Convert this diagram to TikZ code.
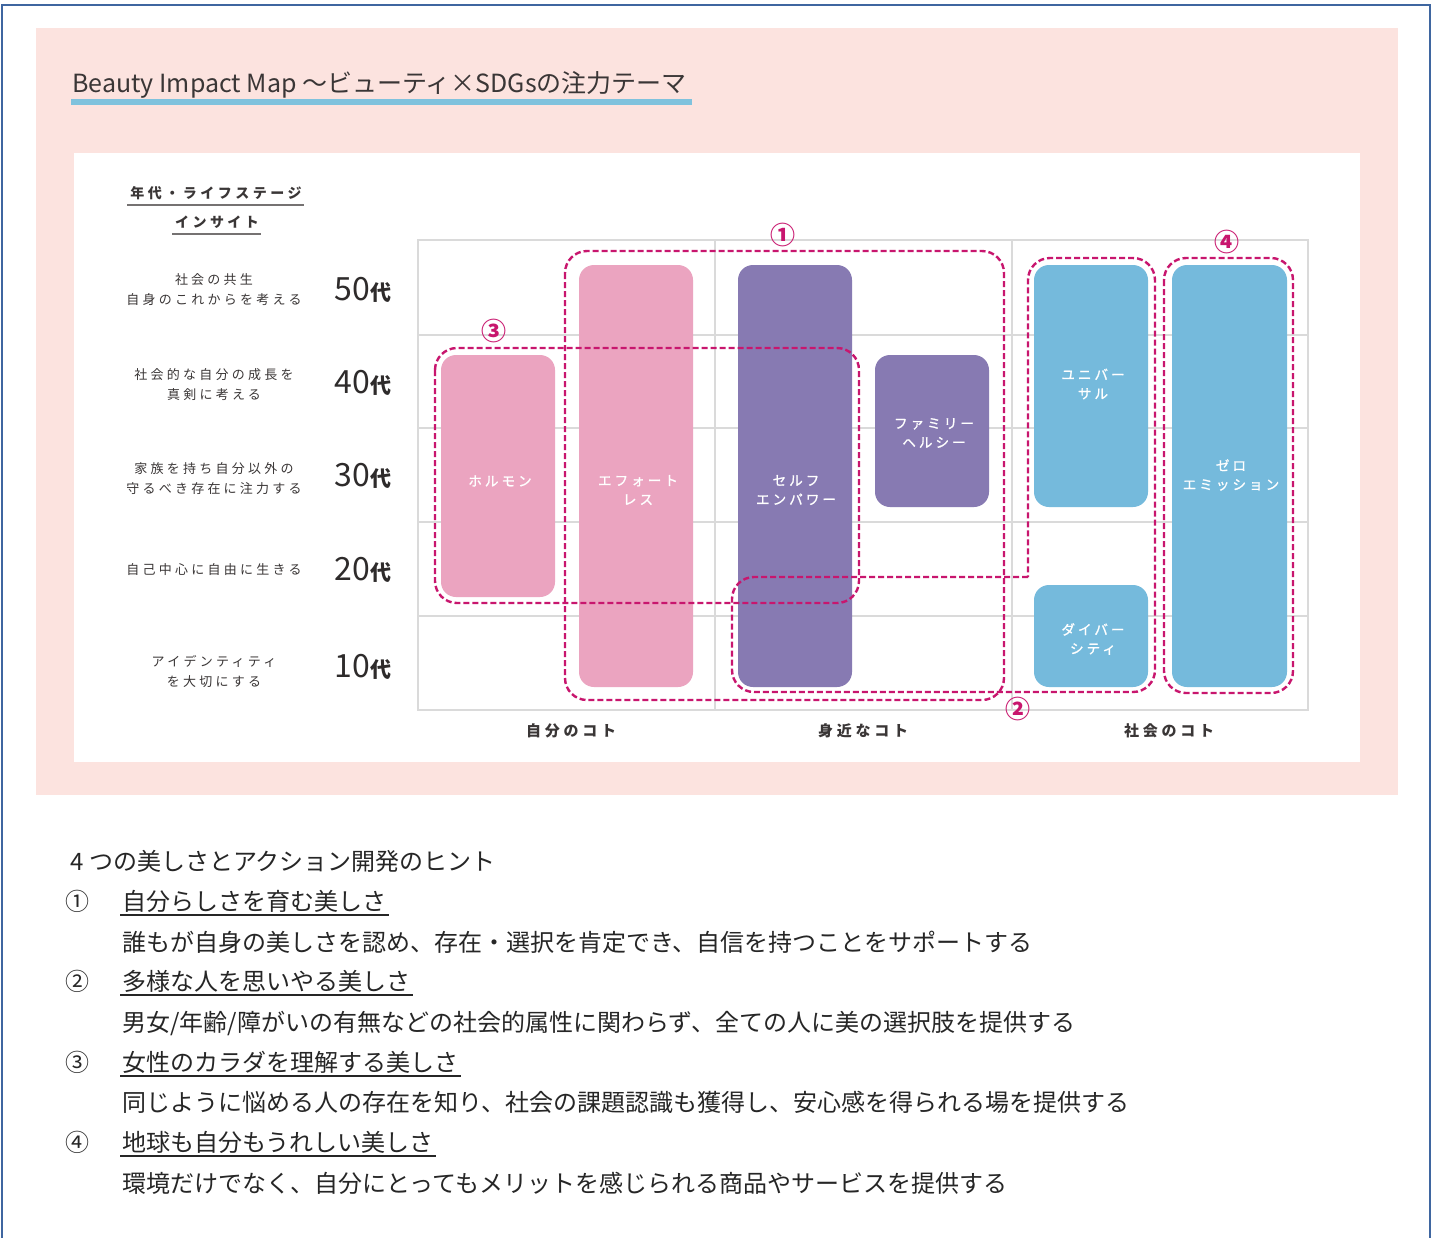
\documentclass[tikz,border=0pt]{standalone}
\usepackage{fontspec}
\setmainfont{Noto Sans CJK JP}
\newfontfamily\jpsp[LetterSpace=25]{Noto Sans CJK JP}
\newfontfamily\jpspm[LetterSpace=22,FakeBold=1.2]{Noto Sans CJK JP}
\usetikzlibrary{fit,calc}
\definecolor{bgpink}{HTML}{FCE3DF}
\definecolor{barpink}{HTML}{EBA4C0}
\definecolor{barpurple}{HTML}{877AB2}
\definecolor{barblue}{HTML}{75BADC}
\definecolor{grpc}{HTML}{C8166E}
\definecolor{tline}{HTML}{7FC2DD}
\definecolor{framec}{HTML}{3F66A0}
\definecolor{gridc}{HTML}{DADADA}
\definecolor{txt}{HTML}{3A3636}
\begin{document}
\begin{tikzpicture}[x=0.5pt,y=-0.5pt,
  bar/.style={rounded corners=7.5pt, inner sep=0pt, outer sep=0pt},
  barlbl/.style={inner sep=0pt, text=white, align=center,
    font=\jpspm\fontsize{6.8}{9.5}\selectfont},
  grp/.style={draw=grpc, line width=1.2pt, dash pattern=on 3pt off 1.5pt, rounded corners=11pt},
  grplbl/.style={text=grpc, inner sep=0pt, font=\bfseries\fontsize{12.5}{12.5}\selectfont},
  ins/.style={align=center, text=txt, inner sep=0pt, font=\jpsp\fontsize{6.5}{10}\selectfont},
  age/.style={text=txt!80!black, inner sep=0pt},
  axl/.style={text=txt, inner sep=0pt, font=\jpsp\bfseries\fontsize{7.5}{9}\selectfont},
  hdr/.style={text=txt, inner sep=0pt, font=\jpsp\bfseries\fontsize{7}{9}\selectfont},
  body/.style={anchor=base west, inner sep=0pt, text=black!85, font=\fontsize{12}{14}\selectfont},
  num/.style={anchor=base, inner sep=0pt, text=black!85, font=\fontsize{12}{14}\selectfont},
  grid/.style={draw=gridc, line width=0.6pt}
]
\useasboundingbox (0,0) rectangle (1432,1238);
\fill[white] (0,0) rectangle (1432,1238);
\draw[framec, line width=1.2pt] (2,1240) -- (2,5) -- (1430,5) -- (1430,1240);
\fill[bgpink] (36,28) rectangle (1398,795);
\fill[white] (74,153) rectangle (1360,762);

% title
\node[anchor=base west, inner sep=0pt, text=txt, font=\fontsize{12.5}{15}\selectfont] (title) at (72,92)
  {Beauty Impact Map 〜ビューティ×SDGsの注力テーマ};
\draw[tline, line width=2.6pt] (71,102) -- (692,102);

% header
\node[hdr] (hdr1) at (216,193) {年代・ライフステージ};
\node[hdr] (hdr2) at (217,222) {インサイト};
\draw[txt!70, line width=0.7pt] (127,205) -- (304,205);
\draw[txt!70, line width=0.7pt] (172,234) -- (261,234);

% insights
\node[ins] (i50) at (214,290) {社会の共生\\自身のこれからを考える};
\node[ins] (i40) at (214,385) {社会的な自分の成長を\\真剣に考える};
\node[ins] (i30) at (214,479) {家族を持ち自分以外の\\守るべき存在に注力する};
\node[ins] (i20) at (214,570) {自己中心に自由に生きる};
\node[ins] (i10) at (214,671) {アイデンティティ\\を大切にする};

% ages
\node[age] (a50) at (363,290) {\fontsize{16}{16}\selectfont 50\fontsize{10.5}{10.5}\selectfont\bfseries 代};
\node[age] (a40) at (363,383) {\fontsize{16}{16}\selectfont 40\fontsize{10.5}{10.5}\selectfont\bfseries 代};
\node[age] (a30) at (363,476) {\fontsize{16}{16}\selectfont 30\fontsize{10.5}{10.5}\selectfont\bfseries 代};
\node[age] (a20) at (363,570) {\fontsize{16}{16}\selectfont 20\fontsize{10.5}{10.5}\selectfont\bfseries 代};
\node[age] (a10) at (363,667) {\fontsize{16}{16}\selectfont 10\fontsize{10.5}{10.5}\selectfont\bfseries 代};

% grid
\draw[grid] (418,240) rectangle (1308,710);
\foreach \yy in {335,428,522,616} \draw[grid] (418,\yy) -- (1308,\yy);
\foreach \xx in {715,1012} \draw[grid] (\xx,240) -- (\xx,710);

% bars
\node[bar, fill=barpink, fit={(441,355)(555,597)}] (hormone) {};
\node[bar, fill=barpink, fit={(579,265)(693,687)}] (effort) {};
\node[bar, fill=barpurple, fit={(738,265)(852,687)}] (self) {};
\node[bar, fill=barpurple, fit={(875,355)(989,507)}] (family) {};
\node[bar, fill=barblue, fit={(1034,265)(1148,507)}] (universal) {};
\node[bar, fill=barblue, fit={(1034,585)(1148,687)}] (diversity) {};
\node[bar, fill=barblue, fit={(1172,265)(1287,687)}] (zero) {};
\node[barlbl] (thormone) at (500,481) {ホルモン};
\node[barlbl] (teffort) at (638,490) {エフォート\\レス};
\node[barlbl] (tself) at (796,490) {セルフ\\エンパワー};
\node[barlbl] (tfamily) at (934,433) {ファミリー\\ヘルシー};
\node[barlbl] (tuniversal) at (1093,384) {ユニバー\\サル};
\node[barlbl] (tdiversity) at (1093,639) {ダイバー\\シティ};
\node[barlbl] (tzero) at (1231,475) {ゼロ\\エミッション};

% groups
\draw[grp] (565,251) rectangle (1004,700);
\draw[grp] (435,348) rectangle (859,603);
\draw[grp] (1028,577) -- (732,577) -- (732,692) -- (1155,692) -- (1155,258) -- (1028,258) -- (1028,577);
\draw[grp] (1164,258) rectangle (1293,693);
\node[grplbl] (g1) at (783,235) {①};
\node[grplbl] (g2) at (1018,709) {②};
\node[grplbl] (g3) at (494,331) {③};
\node[grplbl] (g4) at (1227,242) {④};

% axis labels
\node[axl] (ax1) at (571,731) {自分のコト};
\node[axl] (ax2) at (863,731) {身近なコト};
\node[axl] (ax3) at (1169,731) {社会のコト};

% lower text
\node[body] (intro) at (70,870) {4 つの美しさとアクション開発のヒント};
\node[num] (n1) at (77,910) {①};
\node[body] (h1) at (122,910) {自分らしさを育む美しさ};
\node[body] (b1) at (122,951) {誰もが自身の美しさを認め、存在・選択を肯定でき、自信を持つことをサポートする};
\node[num] (n2) at (77,990) {②};
\node[body] (h2) at (122,990) {多様な人を思いやる美しさ};
\node[body] (b2) at (122,1031) {男女/年齢/障がいの有無などの社会的属性に関わらず、全ての人に美の選択肢を提供する};
\node[num] (n3) at (77,1071) {③};
\node[body] (h3) at (122,1071) {女性のカラダを理解する美しさ};
\node[body] (b3) at (122,1111) {同じように悩める人の存在を知り、社会の課題認識も獲得し、安心感を得られる場を提供する};
\node[num] (n4) at (77,1151) {④};
\node[body] (h4) at (122,1151) {地球も自分もうれしい美しさ};
\node[body] (b4) at (122,1192) {環境だけでなく、自分にとってもメリットを感じられる商品やサービスを提供する};
\foreach \h in {h1,h2,h3,h4}
  \draw[black!85, line width=0.6pt] ($(\h.base west)+(-2,5)$) -- ($(\h.base east)+(2,5)$);
\end{tikzpicture}
\end{document}
